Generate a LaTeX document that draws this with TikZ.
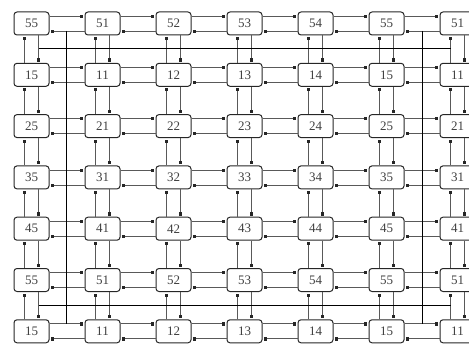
\documentclass[tikz,border=0pt]{standalone}
\usepackage{fontspec}
\setmainfont{Liberation Serif}
\usetikzlibrary{arrows.meta}
\begin{document}
\begin{tikzpicture}[x=1pt,y=-1pt,
  cell/.style={draw=black!85, line width=1pt, rounded corners=3pt,
    minimum width=35pt, minimum height=23pt, inner sep=0pt,
    font=\fontsize{13}{13}\selectfont, text=black!75},
  conn/.style={draw=black!65, line width=0.7pt,
    -{Square[length=2.8pt,width=2.8pt,fill=black!85,color=black!85]}, shorten >=1.5pt},
  wraph/.style={draw=black, line width=1.8pt},
  wrapv/.style={draw=black, line width=1.3pt}]
\clip (0,0) rectangle (469,345);
\foreach \r/\p in {1/5,2/1,3/2,4/3,5/4,6/5,7/1}
  \foreach \c/\s in {1/5,2/1,3/2,4/3,5/4,6/5,7/1}
    \node[cell] (n-\r-\c) at ({31.5+71*(\c-1)}, {23.5+51.3*(\r-1)}) {\p\s};
% horizontal connectors
\foreach \r in {1,...,7}
  \foreach \ca/\cb in {1/2,2/3,3/4,4/5,5/6,6/7} {
    \draw[conn] ([yshift=7.5pt]n-\r-\ca.east) -- ([yshift=7.5pt]n-\r-\cb.west);
    \draw[conn] ([yshift=-7.5pt]n-\r-\cb.west) -- ([yshift=-7.5pt]n-\r-\ca.east);
  }
% vertical connectors
\foreach \ra/\rb in {1/2,2/3,3/4,4/5,5/6,6/7}
  \foreach \c in {1,...,7} {
    \draw[conn] ([xshift=-7pt]n-\rb-\c.north) -- ([xshift=-7pt]n-\ra-\c.south);
    \draw[conn] ([xshift=7pt]n-\ra-\c.south) -- ([xshift=7pt]n-\rb-\c.north);
  }
% wrap-around lines
\coordinate (tl) at (38.5,48.5); \coordinate (tr) at (450.5,48.5);
\coordinate (bl) at (38.5,305.5); \coordinate (br) at (450.5,305.5);
\coordinate (lt) at (66.5,31); \coordinate (lb) at (66.5,323.8);
\coordinate (rt) at (422.5,31); \coordinate (rb) at (422.5,323.8);
\draw[wraph] (tl) -- (tr);
\draw[wraph] (bl) -- (br);
\draw[wrapv] (lt) -- (lb);
\draw[wrapv] (rt) -- (rb);
\end{tikzpicture}
\end{document}
